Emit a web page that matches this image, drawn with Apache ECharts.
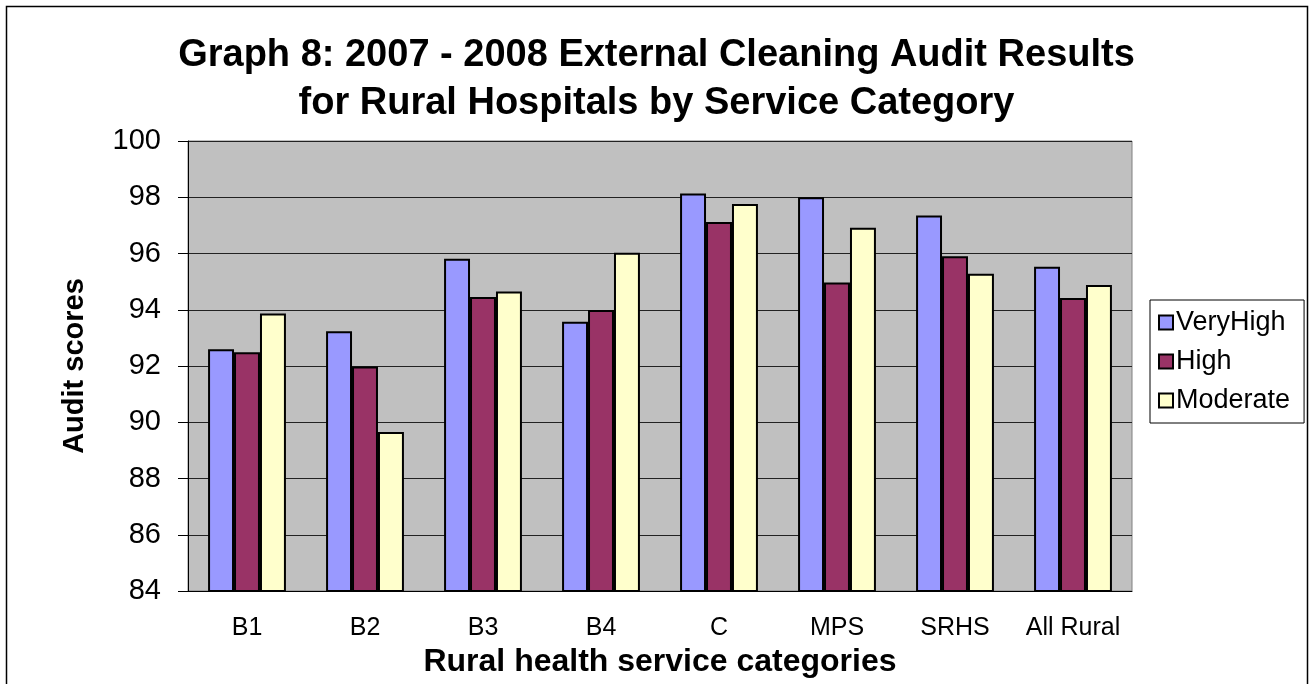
<!DOCTYPE html>
<html>
<head>
<meta charset="utf-8">
<script src="https://cdn.jsdelivr.net/npm/echarts@6/dist/echarts.min.js"></script>
<style>
  html, body { margin: 0; padding: 0; background: #fff; }
  #chart { width: 1313px; height: 684px; }
</style>
</head>
<body>
<div id="chart"></div>
<script>
const categories = ['B1', 'B2', 'B3', 'B4', 'C', 'MPS', 'SRHS', 'All Rural']
const veryHigh = [92.6, 93.24, 95.81, 93.57, 98.13, 98.0, 97.35, 95.53]
const high = [92.49, 91.98, 94.45, 93.99, 97.12, 94.97, 95.9, 94.42]
const moderate = [93.87, 89.65, 94.65, 96.03, 97.76, 96.92, 95.28, 94.88]

const font = 'Liberation Sans, Arial, sans-serif'
const barBorder = { borderColor: '#000', borderWidth: 2 }

const chart = echarts.init(document.getElementById('chart'))
chart.setOption({
  animation: false,
  textStyle: { fontFamily: font, color: '#000' },
  title: {
    text: 'Graph 8: 2007 - 2008 External Cleaning Audit Results\nfor Rural Hospitals by Service Category',
    left: 'center',
    top: 27,
    textStyle: { fontSize: 38, fontWeight: 'bold', lineHeight: 48, color: '#000', fontFamily: font }
  },
  graphic: [{
    type: 'rect',
    shape: { x: 6.5, y: 6.5, width: 1301, height: 700 },
    style: { fill: 'none', stroke: '#000', lineWidth: 1.5 },
    z: -10
  }],
  legend: {
    orient: 'vertical',
    left: 1150,
    top: 300,
    padding: [9, 14, 9, 8],
    itemWidth: 14,
    itemHeight: 14,
    itemGap: 12,
    icon: 'rect',
    backgroundColor: '#fff',
    borderColor: '#000',
    borderWidth: 1,
    textStyle: { fontSize: 27, color: '#000', fontFamily: font, padding: [0, 0, 0, -2] },
    data: ['VeryHigh', 'High', 'Moderate']
  },
  grid: {
    left: 188,
    right: 181,
    top: 141,
    bottom: 93,
    show: true,
    backgroundColor: '#C0C0C0',
    borderColor: '#808080',
    borderWidth: 1
  },
  xAxis: {
    type: 'category',
    data: categories,
    name: 'Rural health service categories',
    nameLocation: 'middle',
    nameGap: 53,
    nameTextStyle: { fontSize: 32, fontWeight: 'bold', color: '#000', fontFamily: font },
    axisLine: { lineStyle: { color: '#000', width: 1 } },
    axisTick: { interval: 0, length: 8, lineStyle: { color: '#000' } },
    axisLabel: { interval: 0, fontSize: 25, color: '#000', margin: 25 }
  },
  yAxis: {
    type: 'value',
    min: 84,
    max: 100,
    interval: 2,
    name: 'Audit scores',
    nameLocation: 'middle',
    nameRotate: 90,
    nameGap: 99,
    nameTextStyle: { fontSize: 29, fontWeight: 'bold', color: '#000', fontFamily: font },
    axisLine: { show: true, lineStyle: { color: '#000', width: 1 } },
    axisTick: { show: true, length: 10, lineStyle: { color: '#000' } },
    axisLabel: { fontSize: 29, color: '#000', margin: 27 },
    splitLine: { lineStyle: { color: '#222', width: 1 } }
  },
  series: [
    { name: 'VeryHigh', type: 'bar', data: veryHigh, barGap: '0%', barCategoryGap: '34%',
      itemStyle: Object.assign({ color: '#9999FF' }, barBorder) },
    { name: 'High', type: 'bar', data: high, barGap: '0%', barCategoryGap: '34%',
      itemStyle: Object.assign({ color: '#993366' }, barBorder) },
    { name: 'Moderate', type: 'bar', data: moderate, barGap: '0%', barCategoryGap: '34%',
      itemStyle: Object.assign({ color: '#FFFFCC' }, barBorder) }
  ]
})
</script>
</body>
</html>
